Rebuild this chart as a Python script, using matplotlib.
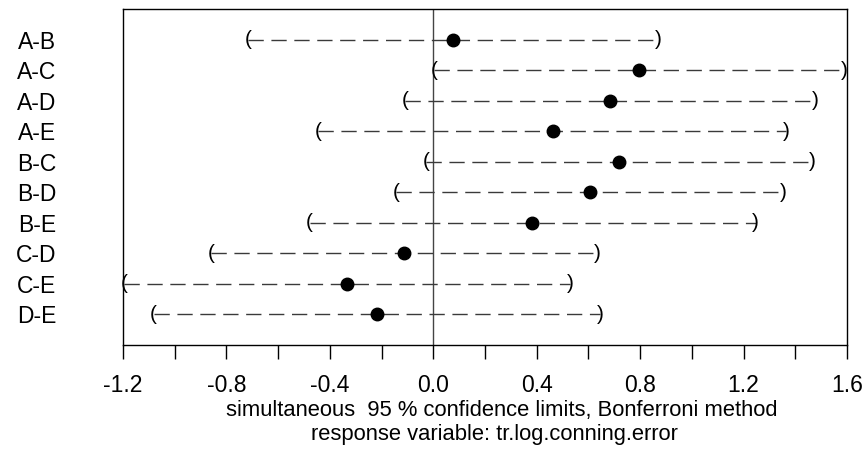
import matplotlib
matplotlib.use("Agg")
import matplotlib.pyplot as plt
import numpy as np

plt.rcParams['font.family'] = ['Liberation Sans', 'DejaVu Sans']

comparisons = ["A-B", "A-C", "A-D", "A-E", "B-C", "B-D", "B-E", "C-D", "C-E", "D-E"]
estimates = [0.077, 0.797, 0.683, 0.462, 0.720, 0.606, 0.383, -0.113, -0.335, -0.219]
lower = [-0.716, 0.002, -0.110, -0.444, -0.028, -0.144, -0.478, -0.860, -1.196, -1.082]
upper = [0.869, 1.590, 1.476, 1.364, 1.467, 1.354, 1.247, 0.636, 0.529, 0.645]

xticks = [-1.2, -1.0, -0.8, -0.6, -0.4, -0.2, 0.0, 0.2, 0.4, 0.6, 0.8, 1.0, 1.2, 1.4, 1.6]
xticklabels = ["-1.2", "", "-0.8", "", "-0.4", "", "0.0", "", "0.4", "", "0.8", "", "1.2", "", "1.6"]

xlabel1 = "simultaneous  95 % confidence limits, Bonferroni method"
xlabel2 = "response variable: tr.log.conning.error"

W, H = 867, 455
fig = plt.figure(figsize=(W / 100, H / 100), dpi=100)
ax = fig.add_axes([123 / W, 1 - 345 / H, 724 / W, 336 / H])

n = len(comparisons)
ypos = np.arange(n, 0, -1)

fs = 16.5
lfs = 15.8
pfs = 15
ax.axvline(0, color='#444444', lw=1.0, zorder=1)
for y, lo, est, hi in zip(ypos, lower, estimates, upper):
    ax.plot([lo, hi], [y, y], color='#3a3a3a', lw=1.0,
            linestyle=(0, (11, 5.5)), zorder=2)
    ax.text(lo, y, "(", ha='center', va='center', fontsize=pfs, color='black', zorder=3)
    ax.text(hi, y, ")", ha='center', va='center', fontsize=pfs, color='black', zorder=3)
ax.plot(estimates, ypos, 'o', color='black', markersize=9, zorder=4)

ax.set_xlim(-1.2, 1.6)
ax.set_ylim(0, n + 1)
ax.set_xticks(xticks)
ax.set_xticklabels(xticklabels, fontsize=fs)
ax.set_yticks(ypos)
ax.set_yticklabels(comparisons, fontsize=fs)
ax.tick_params(axis='x', direction='out', length=10, width=1, pad=11, colors='black')
ax.tick_params(axis='y', length=0, pad=48)
for s in ax.spines.values():
    s.set_linewidth(1.0)
    s.set_color('black')

fig.text(502 / W, 1 - 416 / H, xlabel1, ha='center', va='baseline', fontsize=lfs)
fig.text(494 / W, 1 - 440 / H, xlabel2, ha='center', va='baseline', fontsize=lfs)

fig.savefig("out.png", dpi=100)
